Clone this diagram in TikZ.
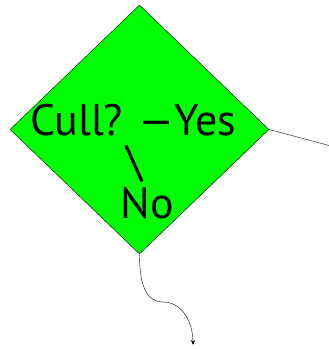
\documentclass[tikz,border=0pt]{standalone}
\usepackage{fontspec}
\setmainfont{PT Sans}
\usetikzlibrary{arrows.meta,shapes.geometric}
\definecolor{cullgreen}{HTML}{00FF00}
\tikzset{
  dec/.style={diamond, draw=black, fill=cullgreen, inner sep=0pt, minimum width=259pt, minimum height=249pt},
  big/.style={font=\fontsize{44}{41}\selectfont, inner sep=0pt, anchor=base},
  arr/.style={-{Stealth[length=5pt,width=4pt]}, thin},
}
\begin{document}
\begin{tikzpicture}[x=1pt, y=-1pt]
  \useasboundingbox (0,0) rectangle (329,349);
  \node[dec] (cull) at (139.5,129.5) {};
  \node[big] (q) at (133,135) {Cull? —Yes};
  \node[big] (sl) at (135,176) {\textbackslash};
  \node[big] (no) at (147,218) {No};
  \coordinate (yes) at (331,146);
  \coordinate (bend) at (163,302);
  \coordinate (tip) at (193,345);
  \draw (cull.east) -- (yes);
  \draw[arr] (cull.south) to[out=-90, in=180] (bend) to[out=0, in=90] (tip);
\end{tikzpicture}
\end{document}
